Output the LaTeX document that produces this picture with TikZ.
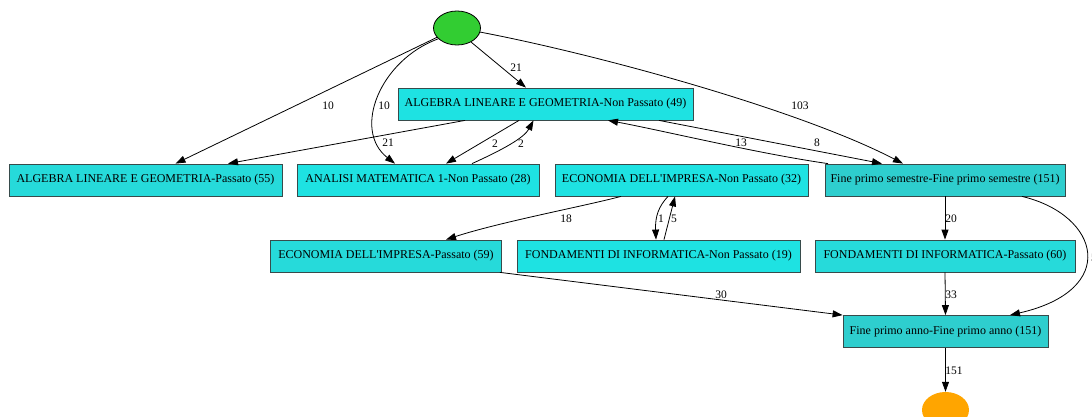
\documentclass[tikz,border=0pt]{standalone}
\usepackage{fontspec}
\setmainfont{Liberation Serif}
\usetikzlibrary{shapes.geometric,arrows.meta}
\definecolor{boxbright}{RGB}{30,226,226}
\definecolor{boxmid}{RGB}{38,218,218}
\definecolor{boxdark}{RGB}{46,206,206}
\definecolor{boxline}{RGB}{55,75,75}
\definecolor{startgreen}{RGB}{50,205,50}
\definecolor{endorange}{RGB}{255,165,0}
\begin{document}
\begin{tikzpicture}[x=1pt,y=-1pt,
  state/.style={draw=boxline,line width=0.8pt,rectangle,minimum height=32pt,
    inner sep=0pt,font=\fontsize{12}{14}\selectfont,text=black},
  flow/.style={draw=black,line width=0.8pt,-{Triangle[length=10pt,width=7pt]}},
  count/.style={font=\fontsize{11.5}{13}\selectfont,inner sep=0pt,text=black}]
\useasboundingbox (0,0) rectangle (1092,417);
\clip (0,0) rectangle (1092,417);

% start and end markers
\node[ellipse,draw=black,line width=0.8pt,fill=startgreen,minimum width=47pt,minimum height=34pt,inner sep=0pt] (start) at (457,28) {};
\node[ellipse,fill=endorange,minimum width=47pt,minimum height=36pt,inner sep=0pt] (stop) at (945.5,410) {};

% states
\node[state,fill=boxbright,minimum width=295pt] (alnp) at (545.5,104) {ALGEBRA LINEARE E GEOMETRIA-Non Passato (49)};
\node[state,fill=boxmid,minimum width=273pt] (alp) at (145.5,180) {ALGEBRA LINEARE E GEOMETRIA-Passato (55)};
\node[state,fill=boxbright,minimum width=242pt] (anp) at (418,180) {ANALISI MATEMATICA 1-Non Passato (28)};
\node[state,fill=boxbright,minimum width=253pt] (ecnp) at (681.5,180) {ECONOMIA DELL\textquotesingle IMPRESA-Non Passato (32)};
\node[state,fill=boxdark,minimum width=240pt] (fps) at (945,180) {Fine primo semestre-Fine primo semestre (151)};
\node[state,fill=boxmid,minimum width=231pt] (ecp) at (386,256) {ECONOMIA DELL\textquotesingle IMPRESA-Passato (59)};
\node[state,fill=boxbright,minimum width=283pt] (fnp) at (658.5,256) {FONDAMENTI DI INFORMATICA-Non Passato (19)};
\node[state,fill=boxmid,minimum width=260pt] (fpp) at (945,256) {FONDAMENTI DI INFORMATICA-Passato (60)};
\node[state,fill=boxdark,minimum width=205pt] (fpa) at (945.5,331.5) {Fine primo anno-Fine primo anno (151)};

% transitions
\draw[flow] (start.205) -- ([xshift=30pt]alp.north);
\draw[flow] (start.210) .. controls (380,60) and (352,130) .. ([xshift=-23pt]anp.north);
\draw[flow] (start.-45) -- ([xshift=-19.5pt]alnp.north);
\draw[flow] (start.-10) .. controls (600,55) and (800,110) .. ([xshift=-42pt]fps.north);
\draw[flow] ([xshift=-80.5pt]alnp.south) -- ([xshift=82.5pt]alp.north);
\draw[flow] ([xshift=-26.5pt]alnp.south) -- ([xshift=28pt]anp.north);
\draw[flow] ([xshift=54pt]anp.north) .. controls (502,150) and (524,138) .. ([xshift=-12pt]alnp.south);
\draw[flow] ([xshift=113.5pt]alnp.south) -- ([xshift=-63pt]fps.north);
\draw[flow] ([xshift=-117pt]fps.north) .. controls (760,154) and (660,130) .. ([xshift=62.5pt]alnp.south);
\draw[flow] ([xshift=-60.5pt]ecnp.south) .. controls (585,206) and (500,222) .. ([xshift=60pt]ecp.north);
\draw[flow] ([xshift=-13.5pt]ecnp.south) .. controls (659,206) and (655,216) .. ([xshift=-2.5pt]fnp.north);
\draw[flow] ([xshift=5.5pt]fnp.north) -- ([xshift=-6.5pt]ecnp.south);
\draw[flow] (fps.south) -- (fpp.north);
\draw[flow] ([xshift=77pt]fps.south) .. controls (1100,215) and (1120,290) .. ([xshift=64.5pt]fpa.north);
\draw[flow] (fpp.south) -- (fpa.north);
\draw[flow] ([xshift=114pt]ecp.south) -- (fpa.north west);
\draw[flow] (fpa.south) -- (stop.north);

% transition counts
\node[count] (c1) at (328,106) {10};
\node[count] (c2) at (384,106) {10};
\node[count] (c3) at (516,68) {21};
\node[count] (c4) at (388,143) {21};
\node[count] (c5) at (495,144) {2};
\node[count] (c6) at (521,144) {2};
\node[count] (c7) at (800,106) {103};
\node[count] (c8) at (741,143) {13};
\node[count] (c9) at (817,143) {8};
\node[count] (c10) at (566,219) {18};
\node[count] (c11) at (661,219) {1};
\node[count] (c12) at (674,219) {5};
\node[count] (c13) at (951,219) {20};
\node[count] (c14) at (1094,258) {5};
\node[count] (c15) at (951,295) {33};
\node[count] (c16) at (721,295) {30};
\node[count] (c17) at (954,371) {151};
\end{tikzpicture}
\end{document}
